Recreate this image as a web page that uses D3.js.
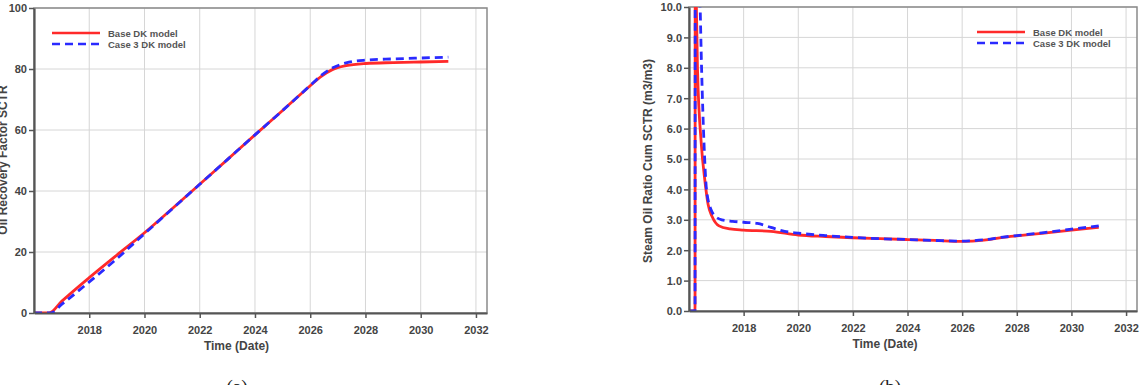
<!DOCTYPE html>
<html>
<head>
<meta charset="utf-8">
<script src="https://cdn.jsdelivr.net/npm/d3@7"></script>
<style>
  body { margin: 0; background: #fff; }
  svg { display: block; font-family: "Liberation Sans", Arial, sans-serif; }
  .tick text { font-size: 11px; font-weight: bold; fill: #444; }
  .axis-title { font-size: 12px; font-weight: bold; fill: #444; }
  .legend text { font-size: 9.5px; font-weight: bold; fill: #555; }
  .caption { font-family: "Liberation Serif", "DejaVu Serif", serif; font-size: 19px; fill: #222; }
</style>
</head>
<body>
<svg id="chart" width="1143" height="385"></svg>
<script>
// ---- data ----
const xTicks = [2018, 2020, 2022, 2024, 2026, 2028, 2030, 2032];
const rfTicks = [0, 20, 40, 60, 80, 100];
const sorTicks = [0, 1, 2, 3, 4, 5, 6, 7, 8, 9, 10];
const seriesNames = ["Base DK model", "Case 3 DK model"];

// (a) oil recovery factor
const rfBaseYears = [2016.0, 2016.55, 2017, 2018, 2019, 2020, 2021, 2022, 2023, 2024, 2025, 2026, 2026.4, 2026.8, 2027.3, 2028, 2029, 2030, 2031];
const rfBase      = [0, 0, 3.8, 11.6, 19, 26.3, 34.2, 42.2, 50.3, 58.4, 66.4, 74.5, 77.6, 79.8, 81.1, 81.8, 82.1, 82.3, 82.5];
const rfCaseYears = [2016.0, 2016.6, 2017, 2018, 2019, 2020, 2021, 2022, 2023, 2024, 2025, 2026, 2026.4, 2026.8, 2027.3, 2028, 2029, 2030, 2031];
const rfCase      = [0, 0, 2.8, 10.2, 17.8, 26, 34.1, 42.2, 50.3, 58.4, 66.4, 74.6, 77.9, 80.3, 82, 82.9, 83.3, 83.6, 83.9];

// (b) cumulative steam oil ratio
const sorBaseYears = [2016.0, 2016.22, 2016.23, 2016.27, 2016.31, 2016.45, 2016.58, 2016.7, 2016.85, 2017.1, 2017.5, 2018, 2019, 2020, 2021, 2022, 2023, 2024, 2025, 2026, 2026.8, 2027.5, 2028, 2029, 2030, 2031];
const sorBase      = [0, 0, 14, 10, 8, 5.5, 4.3, 3.5, 3.1, 2.8, 2.7, 2.66, 2.62, 2.5, 2.45, 2.41, 2.38, 2.35, 2.32, 2.29, 2.33, 2.42, 2.47, 2.56, 2.66, 2.75];
const sorCaseYears = [2016.0, 2016.22, 2016.23, 2016.4, 2016.46, 2016.55, 2016.64, 2016.8, 2016.92, 2017.2, 2017.6, 2018, 2018.5, 2019, 2019.5, 2020, 2021, 2022, 2023, 2024, 2025, 2026, 2026.8, 2027.5, 2028, 2029, 2030, 2031];
const sorCase      = [0, 0, 14, 10.3, 8, 5.5, 4.0, 3.35, 3.15, 3.0, 2.95, 2.92, 2.88, 2.75, 2.62, 2.56, 2.48, 2.42, 2.38, 2.35, 2.32, 2.3, 2.34, 2.43, 2.48, 2.58, 2.69, 2.8];

const svg = d3.select("#chart");
const colors = ["#ff2a2a", "#2a2aff"];

function drawPanel(cfg) {
    const x = d3.scaleLinear().domain([2016, 2032.4]).range([cfg.left, cfg.right]);
    const y = d3.scaleLinear().domain(cfg.yDomain).range([cfg.bottom, cfg.top]);
    const g = svg.append("g");

    // grid
    g.append("g").selectAll("line").data(xTicks).join("line")
        .attr("x1", d => x(d)).attr("x2", d => x(d))
        .attr("y1", cfg.top).attr("y2", cfg.bottom)
        .attr("stroke", "#d6d6d6").attr("stroke-width", 1);
    g.append("g").selectAll("line").data(cfg.yTicks).join("line")
        .attr("x1", cfg.left).attr("x2", cfg.right)
        .attr("y1", d => y(d)).attr("y2", d => y(d))
        .attr("stroke", "#d6d6d6").attr("stroke-width", 1);

    // frame (top/right lighter)
    g.append("rect")
        .attr("x", cfg.left).attr("y", cfg.top)
        .attr("width", cfg.right - cfg.left).attr("height", cfg.bottom - cfg.top)
        .attr("fill", "none").attr("stroke", "#8a8a8a").attr("stroke-width", 1.5);

    // lines, clipped to plot area
    const clipId = "clip" + cfg.id;
    svg.append("clipPath").attr("id", clipId).append("rect")
        .attr("x", cfg.left).attr("y", cfg.top)
        .attr("width", cfg.right - cfg.left).attr("height", cfg.bottom - cfg.top);

    const line = d3.line().x(d => x(d[0])).y(d => y(d[1])).curve(d3.curveMonotoneX);
    const lg = g.append("g").attr("clip-path", `url(#${clipId})`);
    cfg.series.forEach((s, i) => {
        const pts = s.years.map((yr, k) => [yr, s.values[k]]);
        lg.append("path").datum(pts)
            .attr("d", line)
            .attr("fill", "none")
            .attr("stroke", colors[i])
            .attr("stroke-width", 2.8)
            .attr("stroke-dasharray", i === 0 ? null : "8,5");
    });

    // axes
    const xAxis = d3.axisBottom(x).tickValues(xTicks).tickFormat(d3.format("d"))
        .tickSize(5).tickSizeOuter(0).tickPadding(8);
    const gx = g.append("g").attr("transform", `translate(0,${cfg.bottom})`).call(xAxis);
    const yAxis = d3.axisLeft(y).tickValues(cfg.yTicks).tickFormat(cfg.yFormat)
        .tickSize(5).tickSizeOuter(0).tickPadding(2);
    const gy = g.append("g").attr("transform", `translate(${cfg.left},0)`).call(yAxis);
    [gx, gy].forEach(a => {
        a.select(".domain").attr("stroke", "#555").attr("stroke-width", 2.2);
        a.selectAll(".tick line").attr("stroke", "#555").attr("stroke-width", 1.5);
    });
    gy.selectAll(".tick text").attr("dy", "0.36em");

    // titles
    g.append("text").attr("class", "axis-title")
        .attr("x", (cfg.left + cfg.right) / 2 + cfg.xTitleShift).attr("y", cfg.bottom + 37)
        .attr("text-anchor", "middle").text("Time (Date)");
    g.append("text").attr("class", "axis-title")
        .attr("transform", `translate(${cfg.yTitleX},${cfg.yTitleY}) rotate(-90)`)
        .attr("text-anchor", "middle").text(cfg.yTitle);

    // legend
    const leg = g.append("g").attr("class", "legend");
    seriesNames.forEach((name, i) => {
        const ly = cfg.legY + i * 11;
        leg.append("line")
            .attr("x1", cfg.legX).attr("x2", cfg.legX + 48)
            .attr("y1", ly).attr("y2", ly)
            .attr("stroke", colors[i]).attr("stroke-width", 2.6)
            .attr("stroke-dasharray", i === 0 ? null : "8,5");
        leg.append("text").attr("x", cfg.legX + 56).attr("y", ly + 3.5).text(name);
    });

    // caption
    svg.append("text").attr("class", "caption")
        .attr("x", cfg.captionX).attr("y", 393)
        .attr("text-anchor", "middle").text(cfg.caption);
}

drawPanel({
    id: "a", left: 34, right: 487, top: 8, bottom: 313,
    yDomain: [0, 100], yTicks: rfTicks, yFormat: d3.format("d"),
    yTitle: "Oil Recovery Factor SCTR", yTitleX: 7, yTitleY: 160,
    xTitleShift: -24,
    series: [{ years: rfBaseYears, values: rfBase }, { years: rfCaseYears, values: rfCase }],
    legX: 52, legY: 33, caption: "(a)", captionX: 237
});

drawPanel({
    id: "b", left: 689, right: 1137, top: 7, bottom: 311,
    yDomain: [0, 10], yTicks: sorTicks, yFormat: d3.format(".1f"),
    yTitle: "Steam Oil Ratio Cum SCTR (m3/m3)", yTitleX: 652, yTitleY: 161,
    xTitleShift: -28,
    series: [{ years: sorBaseYears, values: sorBase }, { years: sorCaseYears, values: sorCase }],
    legX: 977, legY: 32, caption: "(b)", captionX: 890
});
</script>
</body>
</html>
